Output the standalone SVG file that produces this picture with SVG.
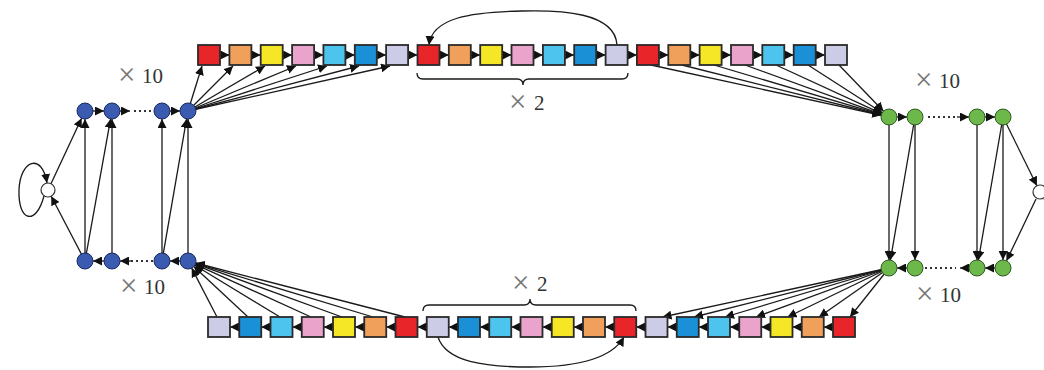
<svg xmlns="http://www.w3.org/2000/svg" width="1044" height="370" viewBox="0 0 1044 370">
  <defs>
    <marker id="ah" viewBox="0 0 10 10" refX="10" refY="5" markerWidth="9" markerHeight="9" markerUnits="userSpaceOnUse" orient="auto">
      <path d="M0,0 L10,5 L0,10 z" fill="#111"/>
    </marker>
    <style>
      .e { stroke: #1a1a1a; stroke-width: 1.3; fill: none; marker-end: url(#ah); }
      .ln { stroke: #1a1a1a; stroke-width: 1.3; fill: none; }
      .dot { stroke: #333; stroke-width: 2; stroke-dasharray: 2 3; fill: none; }
      .sq { stroke: #2a2a2a; stroke-width: 1.8; }
      .red { fill: #e8262a; }
      .org { fill: #f0a05a; }
      .yel { fill: #f5e626; }
      .pnk { fill: #eaa4cc; }
      .lbl { fill: #4cc4ee; }
      .blu { fill: #1a90d6; }
      .lav { fill: #cccce6; }
      .bn { fill: #3a5bb0; stroke: #1a2a60; stroke-width: 1; }
      .gn { fill: #6cb84a; stroke: #2f5a20; stroke-width: 1; }
      .wn { fill: #fff; stroke: #333; stroke-width: 1.2; }
      .t { font-family: "Liberation Serif", "Times New Roman", serif; font-size: 21px; fill: #333; }
      .x { fill: #777; font-size: 31px; }
    </style>
  </defs>

  <!-- connectors -->
  <g id="connectors">
    <!-- top chain, left to right -->
    <line class="e" x1="220" y1="55" x2="229.4" y2="55"/>
    <line class="e" x1="251.4" y1="55" x2="260.7" y2="55"/>
    <line class="e" x1="282.7" y1="55" x2="292.1" y2="55"/>
    <line class="e" x1="314.1" y1="55" x2="323.4" y2="55"/>
    <line class="e" x1="345.4" y1="55" x2="354.8" y2="55"/>
    <line class="e" x1="376.8" y1="55" x2="386.1" y2="55"/>
    <line class="e" x1="408.1" y1="55" x2="417.5" y2="55"/>
    <line class="e" x1="439.5" y1="55" x2="448.8" y2="55"/>
    <line class="e" x1="470.8" y1="55" x2="480.2" y2="55"/>
    <line class="e" x1="502.2" y1="55" x2="511.5" y2="55"/>
    <line class="e" x1="533.5" y1="55" x2="542.9" y2="55"/>
    <line class="e" x1="564.9" y1="55" x2="574.2" y2="55"/>
    <line class="e" x1="596.2" y1="55" x2="605.6" y2="55"/>
    <line class="e" x1="627.6" y1="55" x2="636.9" y2="55"/>
    <line class="e" x1="658.9" y1="55" x2="668.3" y2="55"/>
    <line class="e" x1="690.3" y1="55" x2="699.6" y2="55"/>
    <line class="e" x1="721.6" y1="55" x2="731" y2="55"/>
    <line class="e" x1="753" y1="55" x2="762.3" y2="55"/>
    <line class="e" x1="784.3" y1="55" x2="793.7" y2="55"/>
    <line class="e" x1="815.7" y1="55" x2="825" y2="55"/>

    <!-- top repeat loop -->
    <path class="e" d="M 617,45 C 615,12 560,10 522,11 C 470,12 432,18 429,45"/>
    <!-- top repeat brace -->
    <path class="ln" d="M 417,73 Q 417,79 423,79 L 517,79 Q 523,79 523,85 Q 523,79 529,79 L 622,79 Q 628,79 628,73"/>

    <!-- bottom chain, right to left -->
    <line class="e" x1="239.25" y1="327" x2="230" y2="327"/>
    <line class="e" x1="270.5" y1="327" x2="261.25" y2="327"/>
    <line class="e" x1="301.75" y1="327" x2="292.5" y2="327"/>
    <line class="e" x1="333" y1="327" x2="323.75" y2="327"/>
    <line class="e" x1="364.25" y1="327" x2="355" y2="327"/>
    <line class="e" x1="395.5" y1="327" x2="386.25" y2="327"/>
    <line class="e" x1="426.75" y1="327" x2="417.5" y2="327"/>
    <line class="e" x1="458" y1="327" x2="448.75" y2="327"/>
    <line class="e" x1="489.25" y1="327" x2="480" y2="327"/>
    <line class="e" x1="520.5" y1="327" x2="511.25" y2="327"/>
    <line class="e" x1="551.75" y1="327" x2="542.5" y2="327"/>
    <line class="e" x1="583" y1="327" x2="573.75" y2="327"/>
    <line class="e" x1="614.25" y1="327" x2="605" y2="327"/>
    <line class="e" x1="645.5" y1="327" x2="636.25" y2="327"/>
    <line class="e" x1="676.75" y1="327" x2="667.5" y2="327"/>
    <line class="e" x1="708" y1="327" x2="698.75" y2="327"/>
    <line class="e" x1="739.25" y1="327" x2="730" y2="327"/>
    <line class="e" x1="770.5" y1="327" x2="761.25" y2="327"/>
    <line class="e" x1="801.75" y1="327" x2="792.5" y2="327"/>
    <line class="e" x1="833" y1="327" x2="823.75" y2="327"/>

    <!-- bottom repeat loop -->
    <path class="e" d="M 438,337 C 446,362 485,367 530,367 C 578,367 612,358 624,337"/>
    <!-- bottom repeat brace -->
    <path class="ln" d="M 423,311 Q 423,305 429,305 L 524,305 Q 530,305 530,299 Q 530,305 536,305 L 630,305 Q 636,305 636,311"/>

    <!-- fan: last blue top node into top chain -->
    <line class="e" x1="188" y1="111" x2="202" y2="66"/>
    <line class="e" x1="188" y1="111" x2="233" y2="66"/>
    <line class="e" x1="188" y1="111" x2="265" y2="66"/>
    <line class="e" x1="188" y1="111" x2="296" y2="66"/>
    <line class="e" x1="188" y1="111" x2="327" y2="66"/>
    <line class="e" x1="188" y1="111" x2="359" y2="66"/>
    <line class="e" x1="188" y1="111" x2="390" y2="66"/>

    <!-- fan: top chain tail into first green top node -->
    <line class="e" x1="651" y1="65" x2="881.2" y2="115.3"/>
    <line class="e" x1="682" y1="65" x2="881.2" y2="115"/>
    <line class="e" x1="714" y1="65" x2="881.3" y2="114.7"/>
    <line class="e" x1="745" y1="65" x2="881.5" y2="114.3"/>
    <line class="e" x1="776" y1="65" x2="881.7" y2="113.7"/>
    <line class="e" x1="808" y1="65" x2="882.3" y2="112.7"/>
    <line class="e" x1="839" y1="65" x2="883.5" y2="111.2"/>

    <!-- fan: first green bottom node into bottom chain -->
    <line class="e" x1="889" y1="268" x2="662.5" y2="317"/>
    <line class="e" x1="889" y1="268" x2="694" y2="317"/>
    <line class="e" x1="889" y1="268" x2="725" y2="317"/>
    <line class="e" x1="889" y1="268" x2="756" y2="317"/>
    <line class="e" x1="889" y1="268" x2="787.5" y2="317"/>
    <line class="e" x1="889" y1="268" x2="819" y2="317"/>
    <line class="e" x1="889" y1="268" x2="850" y2="317"/>

    <!-- fan: bottom chain head into last blue bottom node -->
    <line class="e" x1="217" y1="317" x2="191.7" y2="268.1"/>
    <line class="e" x1="248" y1="317" x2="193.8" y2="266.5"/>
    <line class="e" x1="280" y1="317" x2="194.8" y2="265.2"/>
    <line class="e" x1="311" y1="317" x2="195.3" y2="264.3"/>
    <line class="e" x1="342" y1="317" x2="195.5" y2="263.7"/>
    <line class="e" x1="373" y1="317" x2="195.7" y2="263.3"/>
    <line class="e" x1="405" y1="317" x2="195.7" y2="263"/>

    <!-- blue block: top row -->
    <line class="e" x1="85" y1="111" x2="104" y2="111"/>
    <line class="e" x1="112" y1="111" x2="130" y2="111"/>
    <line class="dot" x1="134" y1="111" x2="155" y2="111"/>
    <line class="e" x1="162" y1="111" x2="180" y2="111"/>
    <!-- blue block: bottom row -->
    <line class="e" x1="112" y1="261" x2="93" y2="261"/>
    <line class="dot" x1="131" y1="261" x2="155" y2="261"/>
    <line class="e" x1="131" y1="261" x2="120" y2="261"/>
    <line class="e" x1="188" y1="261" x2="170" y2="261"/>
    <!-- blue block: upward links -->
    <line class="e" x1="85" y1="261" x2="85" y2="119"/>
    <line class="e" x1="112" y1="261" x2="112" y2="119"/>
    <line class="e" x1="162" y1="261" x2="162" y2="119"/>
    <line class="e" x1="188" y1="261" x2="188" y2="119"/>
    <line class="e" x1="85" y1="261" x2="110.6" y2="118.9"/>
    <line class="e" x1="162" y1="261" x2="186.6" y2="118.9"/>
    <!-- left start state -->
    <line class="e" x1="51" y1="183.7" x2="81.6" y2="118.2"/>
    <line class="e" x1="85" y1="261" x2="51.2" y2="196.2"/>
    <path class="e" d="M 44,196 C 36,226 18,222 19,190 C 20,160 42,152 47,183"/>

    <!-- green block: top row -->
    <line class="e" x1="889" y1="117" x2="907" y2="117"/>
    <line class="dot" x1="928" y1="117" x2="957" y2="117"/>
    <line class="e" x1="957" y1="117" x2="969" y2="117"/>
    <line class="e" x1="977" y1="117" x2="995" y2="117"/>
    <!-- green block: bottom row -->
    <line class="e" x1="915" y1="268" x2="897" y2="268"/>
    <line class="dot" x1="925" y1="268" x2="956" y2="268"/>
    <line class="e" x1="977" y1="268" x2="960" y2="268"/>
    <line class="e" x1="1003" y1="268" x2="985" y2="268"/>
    <!-- green block: downward links -->
    <line class="e" x1="889" y1="117" x2="889" y2="260"/>
    <line class="e" x1="915" y1="117" x2="915" y2="260"/>
    <line class="e" x1="977" y1="117" x2="977" y2="260"/>
    <line class="e" x1="1003" y1="117" x2="1003" y2="260"/>
    <line class="e" x1="915" y1="117" x2="890.4" y2="260.1"/>
    <line class="e" x1="1003" y1="117" x2="978.4" y2="260.1"/>
    <!-- right end state -->
    <line class="e" x1="1003" y1="117" x2="1036.9" y2="185.7"/>
    <line class="e" x1="1036" y1="199" x2="1006.5" y2="260.8"/>
    <path class="e" d="M 1046,186 C 1062,160 1072,232 1044,199"/>
  </g>

  <!-- top chain states -->
  <g id="top-chain">
    <rect id="t0" class="sq red" x="198" y="45" width="22" height="20"/>
    <rect id="t1" class="sq org" x="229.4" y="45" width="22" height="20"/>
    <rect id="t2" class="sq yel" x="260.7" y="45" width="22" height="20"/>
    <rect id="t3" class="sq pnk" x="292.1" y="45" width="22" height="20"/>
    <rect id="t4" class="sq lbl" x="323.4" y="45" width="22" height="20"/>
    <rect id="t5" class="sq blu" x="354.8" y="45" width="22" height="20"/>
    <rect id="t6" class="sq lav" x="386.1" y="45" width="22" height="20"/>
    <rect id="t7" class="sq red" x="417.5" y="45" width="22" height="20"/>
    <rect id="t8" class="sq org" x="448.8" y="45" width="22" height="20"/>
    <rect id="t9" class="sq yel" x="480.2" y="45" width="22" height="20"/>
    <rect id="t10" class="sq pnk" x="511.5" y="45" width="22" height="20"/>
    <rect id="t11" class="sq lbl" x="542.9" y="45" width="22" height="20"/>
    <rect id="t12" class="sq blu" x="574.2" y="45" width="22" height="20"/>
    <rect id="t13" class="sq lav" x="605.6" y="45" width="22" height="20"/>
    <rect id="t14" class="sq red" x="636.9" y="45" width="22" height="20"/>
    <rect id="t15" class="sq org" x="668.3" y="45" width="22" height="20"/>
    <rect id="t16" class="sq yel" x="699.6" y="45" width="22" height="20"/>
    <rect id="t17" class="sq pnk" x="731" y="45" width="22" height="20"/>
    <rect id="t18" class="sq lbl" x="762.3" y="45" width="22" height="20"/>
    <rect id="t19" class="sq blu" x="793.7" y="45" width="22" height="20"/>
    <rect id="t20" class="sq lav" x="825" y="45" width="22" height="20"/>
  </g>

  <!-- bottom chain states -->
  <g id="bottom-chain">
    <rect id="b0" class="sq lav" x="208" y="317" width="22" height="20"/>
    <rect id="b1" class="sq blu" x="239.25" y="317" width="22" height="20"/>
    <rect id="b2" class="sq lbl" x="270.5" y="317" width="22" height="20"/>
    <rect id="b3" class="sq pnk" x="301.75" y="317" width="22" height="20"/>
    <rect id="b4" class="sq yel" x="333" y="317" width="22" height="20"/>
    <rect id="b5" class="sq org" x="364.25" y="317" width="22" height="20"/>
    <rect id="b6" class="sq red" x="395.5" y="317" width="22" height="20"/>
    <rect id="b7" class="sq lav" x="426.75" y="317" width="22" height="20"/>
    <rect id="b8" class="sq blu" x="458" y="317" width="22" height="20"/>
    <rect id="b9" class="sq lbl" x="489.25" y="317" width="22" height="20"/>
    <rect id="b10" class="sq pnk" x="520.5" y="317" width="22" height="20"/>
    <rect id="b11" class="sq yel" x="551.75" y="317" width="22" height="20"/>
    <rect id="b12" class="sq org" x="583" y="317" width="22" height="20"/>
    <rect id="b13" class="sq red" x="614.25" y="317" width="22" height="20"/>
    <rect id="b14" class="sq lav" x="645.5" y="317" width="22" height="20"/>
    <rect id="b15" class="sq blu" x="676.75" y="317" width="22" height="20"/>
    <rect id="b16" class="sq lbl" x="708" y="317" width="22" height="20"/>
    <rect id="b17" class="sq pnk" x="739.25" y="317" width="22" height="20"/>
    <rect id="b18" class="sq yel" x="770.5" y="317" width="22" height="20"/>
    <rect id="b19" class="sq org" x="801.75" y="317" width="22" height="20"/>
    <rect id="b20" class="sq red" x="833" y="317" width="22" height="20"/>
  </g>

  <!-- blue block -->
  <g id="blue-top">
    <circle id="bt1" class="bn" cx="85" cy="111" r="8"/>
    <circle id="bt2" class="bn" cx="112" cy="111" r="8"/>
    <circle id="bt3" class="bn" cx="162" cy="111" r="8"/>
    <circle id="bt4" class="bn" cx="188" cy="111" r="8"/>
  </g>
  <g id="blue-bottom">
    <circle id="bb1" class="bn" cx="85" cy="261" r="8"/>
    <circle id="bb2" class="bn" cx="112" cy="261" r="8"/>
    <circle id="bb3" class="bn" cx="162" cy="261" r="8"/>
    <circle id="bb4" class="bn" cx="188" cy="261" r="8"/>
  </g>
  <g id="start-state">
    <circle class="wn" cx="48" cy="190" r="7"/>
  </g>

  <!-- green block -->
  <g id="green-top">
    <circle id="gt1" class="gn" cx="889" cy="117" r="8"/>
    <circle id="gt2" class="gn" cx="915" cy="117" r="8"/>
    <circle id="gt3" class="gn" cx="977" cy="117" r="8"/>
    <circle id="gt4" class="gn" cx="1003" cy="117" r="8"/>
  </g>
  <g id="green-bottom">
    <circle id="gb1" class="gn" cx="889" cy="268" r="8"/>
    <circle id="gb2" class="gn" cx="915" cy="268" r="8"/>
    <circle id="gb3" class="gn" cx="977" cy="268" r="8"/>
    <circle id="gb4" class="gn" cx="1003" cy="268" r="8"/>
  </g>
  <g id="end-state">
    <circle class="wn" cx="1040" cy="192" r="7"/>
  </g>

  <!-- repeat counts -->
  <g id="labels">
    <text class="t" x="118" y="85"><tspan class="x">×</tspan><tspan x="142" y="83">10</tspan></text>
    <text class="t" x="120" y="296"><tspan class="x">×</tspan><tspan x="144" y="294">10</tspan></text>
    <text class="t" x="915" y="90"><tspan class="x">×</tspan><tspan x="939" y="88">10</tspan></text>
    <text class="t" x="916" y="304"><tspan class="x">×</tspan><tspan x="940" y="302">10</tspan></text>
    <text class="t" x="509" y="112"><tspan class="x">×</tspan><tspan x="534" y="110">2</tspan></text>
    <text class="t" x="512" y="293"><tspan class="x">×</tspan><tspan x="537" y="291">2</tspan></text>
  </g>
</svg>
